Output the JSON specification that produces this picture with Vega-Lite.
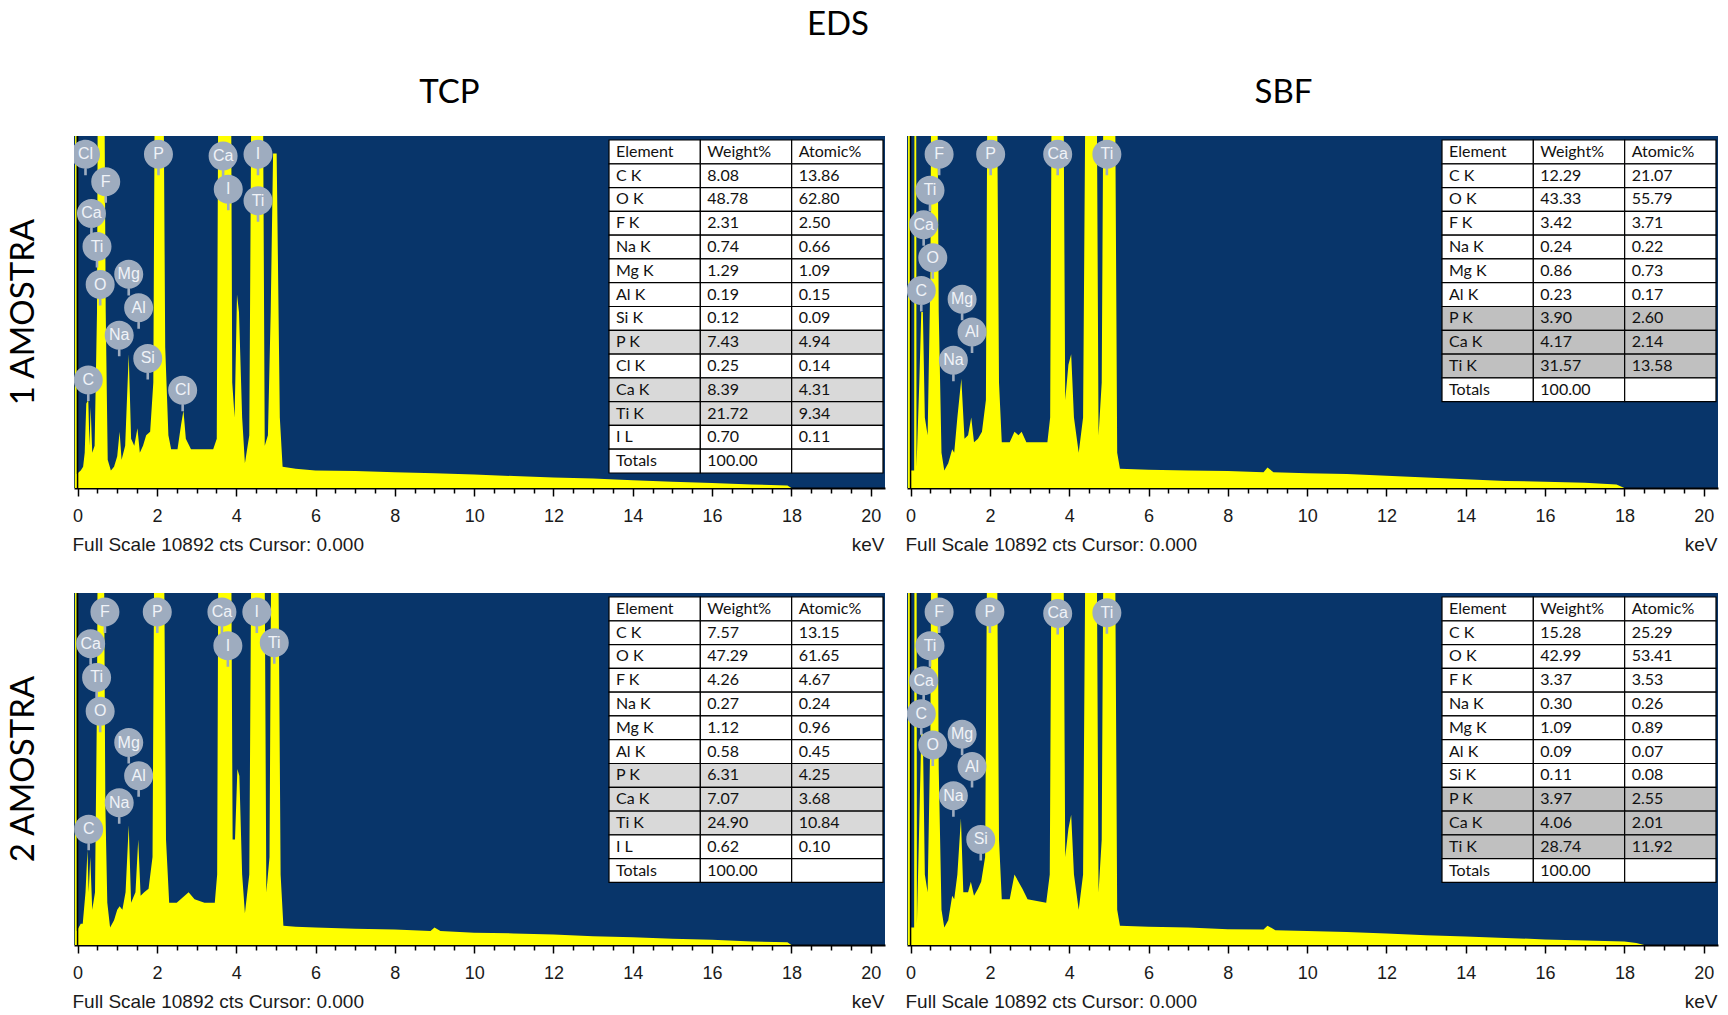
{
"$schema": "https://vega.github.io/schema/vega-lite/v6.json",
"background": "white",
"padding": {"left": 7, "top": 9, "right": 4, "bottom": 0},
"title": {"text": "EDS", "font": "Lato", "fontSize": 33, "fontWeight": "normal", "color": "black", "anchor": "middle", "dx": -25, "offset": 35},
"data": {"values": [
{"a":"1 AMOSTRA","m":"TCP","k":"c","e":0},
{"a":"1 AMOSTRA","m":"SBF","k":"c","e":0},
{"a":"2 AMOSTRA","m":"TCP","k":"c","e":0},
{"a":"2 AMOSTRA","m":"SBF","k":"c","e":0},
{"a":"1 AMOSTRA","m":"TCP","k":"s","e":-0.09,"n":0},
{"a":"1 AMOSTRA","m":"TCP","k":"s","e":-0.07,"n":0},
{"a":"1 AMOSTRA","m":"TCP","k":"s","e":-0.06,"n":16000},
{"a":"1 AMOSTRA","m":"TCP","k":"s","e":-0.03,"n":16000},
{"a":"1 AMOSTRA","m":"TCP","k":"s","e":-0.02,"n":436},
{"a":"1 AMOSTRA","m":"TCP","k":"s","e":0.08,"n":545},
{"a":"1 AMOSTRA","m":"TCP","k":"s","e":0.14,"n":654},
{"a":"1 AMOSTRA","m":"TCP","k":"s","e":0.18,"n":1089},
{"a":"1 AMOSTRA","m":"TCP","k":"s","e":0.22,"n":2614},
{"a":"1 AMOSTRA","m":"TCP","k":"s","e":0.27,"n":2723},
{"a":"1 AMOSTRA","m":"TCP","k":"s","e":0.30,"n":1307},
{"a":"1 AMOSTRA","m":"TCP","k":"s","e":0.33,"n":2505},
{"a":"1 AMOSTRA","m":"TCP","k":"s","e":0.37,"n":1089},
{"a":"1 AMOSTRA","m":"TCP","k":"s","e":0.43,"n":1307},
{"a":"1 AMOSTRA","m":"TCP","k":"s","e":0.49,"n":5446},
{"a":"1 AMOSTRA","m":"TCP","k":"s","e":0.52,"n":16000},
{"a":"1 AMOSTRA","m":"TCP","k":"s","e":0.66,"n":16000},
{"a":"1 AMOSTRA","m":"TCP","k":"s","e":0.71,"n":5446},
{"a":"1 AMOSTRA","m":"TCP","k":"s","e":0.76,"n":871},
{"a":"1 AMOSTRA","m":"TCP","k":"s","e":0.84,"n":545},
{"a":"1 AMOSTRA","m":"TCP","k":"s","e":0.92,"n":654},
{"a":"1 AMOSTRA","m":"TCP","k":"s","e":1.00,"n":980},
{"a":"1 AMOSTRA","m":"TCP","k":"s","e":1.06,"n":1743},
{"a":"1 AMOSTRA","m":"TCP","k":"s","e":1.11,"n":871},
{"a":"1 AMOSTRA","m":"TCP","k":"s","e":1.20,"n":1307},
{"a":"1 AMOSTRA","m":"TCP","k":"s","e":1.29,"n":4139},
{"a":"1 AMOSTRA","m":"TCP","k":"s","e":1.35,"n":1525},
{"a":"1 AMOSTRA","m":"TCP","k":"s","e":1.43,"n":1307},
{"a":"1 AMOSTRA","m":"TCP","k":"s","e":1.51,"n":1852},
{"a":"1 AMOSTRA","m":"TCP","k":"s","e":1.57,"n":1089},
{"a":"1 AMOSTRA","m":"TCP","k":"s","e":1.65,"n":1307},
{"a":"1 AMOSTRA","m":"TCP","k":"s","e":1.73,"n":1634},
{"a":"1 AMOSTRA","m":"TCP","k":"s","e":1.83,"n":1743},
{"a":"1 AMOSTRA","m":"TCP","k":"s","e":1.91,"n":3268},
{"a":"1 AMOSTRA","m":"TCP","k":"s","e":1.96,"n":16000},
{"a":"1 AMOSTRA","m":"TCP","k":"s","e":2.15,"n":16000},
{"a":"1 AMOSTRA","m":"TCP","k":"s","e":2.21,"n":4357},
{"a":"1 AMOSTRA","m":"TCP","k":"s","e":2.29,"n":1634},
{"a":"1 AMOSTRA","m":"TCP","k":"s","e":2.36,"n":1198},
{"a":"1 AMOSTRA","m":"TCP","k":"s","e":2.52,"n":1198},
{"a":"1 AMOSTRA","m":"TCP","k":"s","e":2.61,"n":1961},
{"a":"1 AMOSTRA","m":"TCP","k":"s","e":2.67,"n":2396},
{"a":"1 AMOSTRA","m":"TCP","k":"s","e":2.73,"n":1525},
{"a":"1 AMOSTRA","m":"TCP","k":"s","e":2.86,"n":1198},
{"a":"1 AMOSTRA","m":"TCP","k":"s","e":3.10,"n":1198},
{"a":"1 AMOSTRA","m":"TCP","k":"s","e":3.42,"n":1198},
{"a":"1 AMOSTRA","m":"TCP","k":"s","e":3.51,"n":1525},
{"a":"1 AMOSTRA","m":"TCP","k":"s","e":3.56,"n":16000},
{"a":"1 AMOSTRA","m":"TCP","k":"s","e":3.86,"n":16000},
{"a":"1 AMOSTRA","m":"TCP","k":"s","e":3.90,"n":3268},
{"a":"1 AMOSTRA","m":"TCP","k":"s","e":3.96,"n":2178},
{"a":"1 AMOSTRA","m":"TCP","k":"s","e":4.02,"n":5991},
{"a":"1 AMOSTRA","m":"TCP","k":"s","e":4.07,"n":5446},
{"a":"1 AMOSTRA","m":"TCP","k":"s","e":4.15,"n":2178},
{"a":"1 AMOSTRA","m":"TCP","k":"s","e":4.22,"n":762},
{"a":"1 AMOSTRA","m":"TCP","k":"s","e":4.33,"n":1634},
{"a":"1 AMOSTRA","m":"TCP","k":"s","e":4.40,"n":16000},
{"a":"1 AMOSTRA","m":"TCP","k":"s","e":4.66,"n":16000},
{"a":"1 AMOSTRA","m":"TCP","k":"s","e":4.72,"n":1307},
{"a":"1 AMOSTRA","m":"TCP","k":"s","e":4.80,"n":1634},
{"a":"1 AMOSTRA","m":"TCP","k":"s","e":4.87,"n":5446},
{"a":"1 AMOSTRA","m":"TCP","k":"s","e":4.93,"n":10347},
{"a":"1 AMOSTRA","m":"TCP","k":"s","e":5.02,"n":10347},
{"a":"1 AMOSTRA","m":"TCP","k":"s","e":5.10,"n":2178},
{"a":"1 AMOSTRA","m":"TCP","k":"s","e":5.17,"n":654},
{"a":"1 AMOSTRA","m":"TCP","k":"s","e":5.5,"n":599},
{"a":"1 AMOSTRA","m":"TCP","k":"s","e":6,"n":545},
{"a":"1 AMOSTRA","m":"TCP","k":"s","e":7,"n":523},
{"a":"1 AMOSTRA","m":"TCP","k":"s","e":8,"n":490},
{"a":"1 AMOSTRA","m":"TCP","k":"s","e":9,"n":457},
{"a":"1 AMOSTRA","m":"TCP","k":"s","e":10,"n":414},
{"a":"1 AMOSTRA","m":"TCP","k":"s","e":11,"n":370},
{"a":"1 AMOSTRA","m":"TCP","k":"s","e":12,"n":327},
{"a":"1 AMOSTRA","m":"TCP","k":"s","e":13,"n":294},
{"a":"1 AMOSTRA","m":"TCP","k":"s","e":14,"n":240},
{"a":"1 AMOSTRA","m":"TCP","k":"s","e":15,"n":196},
{"a":"1 AMOSTRA","m":"TCP","k":"s","e":16,"n":152},
{"a":"1 AMOSTRA","m":"TCP","k":"s","e":17,"n":109},
{"a":"1 AMOSTRA","m":"TCP","k":"s","e":17.9,"n":76},
{"a":"1 AMOSTRA","m":"TCP","k":"s","e":18.0,"n":0},
{"a":"1 AMOSTRA","m":"TCP","k":"s","e":20.36,"n":0},
{"a":"1 AMOSTRA","m":"SBF","k":"s","e":-0.09,"n":0},
{"a":"1 AMOSTRA","m":"SBF","k":"s","e":-0.07,"n":0},
{"a":"1 AMOSTRA","m":"SBF","k":"s","e":-0.06,"n":16000},
{"a":"1 AMOSTRA","m":"SBF","k":"s","e":-0.02,"n":16000},
{"a":"1 AMOSTRA","m":"SBF","k":"s","e":-0.01,"n":545},
{"a":"1 AMOSTRA","m":"SBF","k":"s","e":0.09,"n":545},
{"a":"1 AMOSTRA","m":"SBF","k":"s","e":0.10,"n":16000},
{"a":"1 AMOSTRA","m":"SBF","k":"s","e":0.14,"n":16000},
{"a":"1 AMOSTRA","m":"SBF","k":"s","e":0.15,"n":654},
{"a":"1 AMOSTRA","m":"SBF","k":"s","e":0.22,"n":3268},
{"a":"1 AMOSTRA","m":"SBF","k":"s","e":0.27,"n":5446},
{"a":"1 AMOSTRA","m":"SBF","k":"s","e":0.31,"n":5446},
{"a":"1 AMOSTRA","m":"SBF","k":"s","e":0.36,"n":2178},
{"a":"1 AMOSTRA","m":"SBF","k":"s","e":0.43,"n":1634},
{"a":"1 AMOSTRA","m":"SBF","k":"s","e":0.50,"n":6535},
{"a":"1 AMOSTRA","m":"SBF","k":"s","e":0.53,"n":16000},
{"a":"1 AMOSTRA","m":"SBF","k":"s","e":0.66,"n":16000},
{"a":"1 AMOSTRA","m":"SBF","k":"s","e":0.71,"n":5446},
{"a":"1 AMOSTRA","m":"SBF","k":"s","e":0.78,"n":1089},
{"a":"1 AMOSTRA","m":"SBF","k":"s","e":0.85,"n":545},
{"a":"1 AMOSTRA","m":"SBF","k":"s","e":0.95,"n":762},
{"a":"1 AMOSTRA","m":"SBF","k":"s","e":1.05,"n":1198},
{"a":"1 AMOSTRA","m":"SBF","k":"s","e":1.10,"n":1089},
{"a":"1 AMOSTRA","m":"SBF","k":"s","e":1.18,"n":2178},
{"a":"1 AMOSTRA","m":"SBF","k":"s","e":1.28,"n":3377},
{"a":"1 AMOSTRA","m":"SBF","k":"s","e":1.36,"n":1525},
{"a":"1 AMOSTRA","m":"SBF","k":"s","e":1.45,"n":1634},
{"a":"1 AMOSTRA","m":"SBF","k":"s","e":1.53,"n":2178},
{"a":"1 AMOSTRA","m":"SBF","k":"s","e":1.60,"n":1416},
{"a":"1 AMOSTRA","m":"SBF","k":"s","e":1.70,"n":1525},
{"a":"1 AMOSTRA","m":"SBF","k":"s","e":1.80,"n":1743},
{"a":"1 AMOSTRA","m":"SBF","k":"s","e":1.90,"n":2723},
{"a":"1 AMOSTRA","m":"SBF","k":"s","e":1.95,"n":16000},
{"a":"1 AMOSTRA","m":"SBF","k":"s","e":2.16,"n":16000},
{"a":"1 AMOSTRA","m":"SBF","k":"s","e":2.23,"n":3268},
{"a":"1 AMOSTRA","m":"SBF","k":"s","e":2.30,"n":1416},
{"a":"1 AMOSTRA","m":"SBF","k":"s","e":2.50,"n":1416},
{"a":"1 AMOSTRA","m":"SBF","k":"s","e":2.62,"n":1743},
{"a":"1 AMOSTRA","m":"SBF","k":"s","e":2.72,"n":1634},
{"a":"1 AMOSTRA","m":"SBF","k":"s","e":2.80,"n":1743},
{"a":"1 AMOSTRA","m":"SBF","k":"s","e":2.92,"n":1416},
{"a":"1 AMOSTRA","m":"SBF","k":"s","e":3.20,"n":1416},
{"a":"1 AMOSTRA","m":"SBF","k":"s","e":3.45,"n":1416},
{"a":"1 AMOSTRA","m":"SBF","k":"s","e":3.52,"n":2178},
{"a":"1 AMOSTRA","m":"SBF","k":"s","e":3.57,"n":16000},
{"a":"1 AMOSTRA","m":"SBF","k":"s","e":3.84,"n":16000},
{"a":"1 AMOSTRA","m":"SBF","k":"s","e":3.90,"n":2723},
{"a":"1 AMOSTRA","m":"SBF","k":"s","e":3.98,"n":3812},
{"a":"1 AMOSTRA","m":"SBF","k":"s","e":4.05,"n":4139},
{"a":"1 AMOSTRA","m":"SBF","k":"s","e":4.12,"n":2178},
{"a":"1 AMOSTRA","m":"SBF","k":"s","e":4.24,"n":1089},
{"a":"1 AMOSTRA","m":"SBF","k":"s","e":4.35,"n":2178},
{"a":"1 AMOSTRA","m":"SBF","k":"s","e":4.43,"n":16000},
{"a":"1 AMOSTRA","m":"SBF","k":"s","e":4.68,"n":16000},
{"a":"1 AMOSTRA","m":"SBF","k":"s","e":4.74,"n":1634},
{"a":"1 AMOSTRA","m":"SBF","k":"s","e":4.82,"n":3268},
{"a":"1 AMOSTRA","m":"SBF","k":"s","e":4.88,"n":16000},
{"a":"1 AMOSTRA","m":"SBF","k":"s","e":5.14,"n":16000},
{"a":"1 AMOSTRA","m":"SBF","k":"s","e":5.21,"n":1089},
{"a":"1 AMOSTRA","m":"SBF","k":"s","e":5.28,"n":599},
{"a":"1 AMOSTRA","m":"SBF","k":"s","e":6,"n":566},
{"a":"1 AMOSTRA","m":"SBF","k":"s","e":7,"n":545},
{"a":"1 AMOSTRA","m":"SBF","k":"s","e":8,"n":523},
{"a":"1 AMOSTRA","m":"SBF","k":"s","e":8.9,"n":490},
{"a":"1 AMOSTRA","m":"SBF","k":"s","e":9.0,"n":632},
{"a":"1 AMOSTRA","m":"SBF","k":"s","e":9.15,"n":490},
{"a":"1 AMOSTRA","m":"SBF","k":"s","e":10,"n":457},
{"a":"1 AMOSTRA","m":"SBF","k":"s","e":11,"n":436},
{"a":"1 AMOSTRA","m":"SBF","k":"s","e":12,"n":381},
{"a":"1 AMOSTRA","m":"SBF","k":"s","e":13,"n":327},
{"a":"1 AMOSTRA","m":"SBF","k":"s","e":14,"n":272},
{"a":"1 AMOSTRA","m":"SBF","k":"s","e":15,"n":218},
{"a":"1 AMOSTRA","m":"SBF","k":"s","e":16,"n":196},
{"a":"1 AMOSTRA","m":"SBF","k":"s","e":17,"n":163},
{"a":"1 AMOSTRA","m":"SBF","k":"s","e":17.8,"n":109},
{"a":"1 AMOSTRA","m":"SBF","k":"s","e":18.0,"n":0},
{"a":"1 AMOSTRA","m":"SBF","k":"s","e":20.36,"n":0},
{"a":"2 AMOSTRA","m":"TCP","k":"s","e":-0.09,"n":0},
{"a":"2 AMOSTRA","m":"TCP","k":"s","e":-0.07,"n":0},
{"a":"2 AMOSTRA","m":"TCP","k":"s","e":-0.06,"n":16000},
{"a":"2 AMOSTRA","m":"TCP","k":"s","e":-0.03,"n":16000},
{"a":"2 AMOSTRA","m":"TCP","k":"s","e":-0.02,"n":436},
{"a":"2 AMOSTRA","m":"TCP","k":"s","e":0.08,"n":654},
{"a":"2 AMOSTRA","m":"TCP","k":"s","e":0.13,"n":654},
{"a":"2 AMOSTRA","m":"TCP","k":"s","e":0.20,"n":1634},
{"a":"2 AMOSTRA","m":"TCP","k":"s","e":0.25,"n":2941},
{"a":"2 AMOSTRA","m":"TCP","k":"s","e":0.28,"n":1634},
{"a":"2 AMOSTRA","m":"TCP","k":"s","e":0.32,"n":2723},
{"a":"2 AMOSTRA","m":"TCP","k":"s","e":0.37,"n":1089},
{"a":"2 AMOSTRA","m":"TCP","k":"s","e":0.44,"n":1634},
{"a":"2 AMOSTRA","m":"TCP","k":"s","e":0.49,"n":7624},
{"a":"2 AMOSTRA","m":"TCP","k":"s","e":0.52,"n":16000},
{"a":"2 AMOSTRA","m":"TCP","k":"s","e":0.65,"n":16000},
{"a":"2 AMOSTRA","m":"TCP","k":"s","e":0.70,"n":4357},
{"a":"2 AMOSTRA","m":"TCP","k":"s","e":0.75,"n":1307},
{"a":"2 AMOSTRA","m":"TCP","k":"s","e":0.82,"n":545},
{"a":"2 AMOSTRA","m":"TCP","k":"s","e":0.92,"n":762},
{"a":"2 AMOSTRA","m":"TCP","k":"s","e":1.00,"n":1089},
{"a":"2 AMOSTRA","m":"TCP","k":"s","e":1.06,"n":1198},
{"a":"2 AMOSTRA","m":"TCP","k":"s","e":1.13,"n":1089},
{"a":"2 AMOSTRA","m":"TCP","k":"s","e":1.21,"n":1634},
{"a":"2 AMOSTRA","m":"TCP","k":"s","e":1.29,"n":3703},
{"a":"2 AMOSTRA","m":"TCP","k":"s","e":1.35,"n":1307},
{"a":"2 AMOSTRA","m":"TCP","k":"s","e":1.46,"n":1634},
{"a":"2 AMOSTRA","m":"TCP","k":"s","e":1.53,"n":3268},
{"a":"2 AMOSTRA","m":"TCP","k":"s","e":1.59,"n":1525},
{"a":"2 AMOSTRA","m":"TCP","k":"s","e":1.68,"n":1634},
{"a":"2 AMOSTRA","m":"TCP","k":"s","e":1.79,"n":1743},
{"a":"2 AMOSTRA","m":"TCP","k":"s","e":1.89,"n":2723},
{"a":"2 AMOSTRA","m":"TCP","k":"s","e":1.95,"n":16000},
{"a":"2 AMOSTRA","m":"TCP","k":"s","e":2.16,"n":16000},
{"a":"2 AMOSTRA","m":"TCP","k":"s","e":2.23,"n":3268},
{"a":"2 AMOSTRA","m":"TCP","k":"s","e":2.31,"n":1307},
{"a":"2 AMOSTRA","m":"TCP","k":"s","e":2.50,"n":1307},
{"a":"2 AMOSTRA","m":"TCP","k":"s","e":2.70,"n":1525},
{"a":"2 AMOSTRA","m":"TCP","k":"s","e":2.80,"n":1634},
{"a":"2 AMOSTRA","m":"TCP","k":"s","e":2.95,"n":1416},
{"a":"2 AMOSTRA","m":"TCP","k":"s","e":3.20,"n":1307},
{"a":"2 AMOSTRA","m":"TCP","k":"s","e":3.46,"n":1307},
{"a":"2 AMOSTRA","m":"TCP","k":"s","e":3.52,"n":2178},
{"a":"2 AMOSTRA","m":"TCP","k":"s","e":3.56,"n":16000},
{"a":"2 AMOSTRA","m":"TCP","k":"s","e":3.86,"n":16000},
{"a":"2 AMOSTRA","m":"TCP","k":"s","e":3.91,"n":3268},
{"a":"2 AMOSTRA","m":"TCP","k":"s","e":3.97,"n":3268},
{"a":"2 AMOSTRA","m":"TCP","k":"s","e":4.03,"n":5446},
{"a":"2 AMOSTRA","m":"TCP","k":"s","e":4.08,"n":5228},
{"a":"2 AMOSTRA","m":"TCP","k":"s","e":4.15,"n":2178},
{"a":"2 AMOSTRA","m":"TCP","k":"s","e":4.22,"n":980},
{"a":"2 AMOSTRA","m":"TCP","k":"s","e":4.33,"n":2178},
{"a":"2 AMOSTRA","m":"TCP","k":"s","e":4.40,"n":16000},
{"a":"2 AMOSTRA","m":"TCP","k":"s","e":4.70,"n":16000},
{"a":"2 AMOSTRA","m":"TCP","k":"s","e":4.76,"n":1634},
{"a":"2 AMOSTRA","m":"TCP","k":"s","e":4.84,"n":2723},
{"a":"2 AMOSTRA","m":"TCP","k":"s","e":4.90,"n":16000},
{"a":"2 AMOSTRA","m":"TCP","k":"s","e":5.04,"n":16000},
{"a":"2 AMOSTRA","m":"TCP","k":"s","e":5.12,"n":2178},
{"a":"2 AMOSTRA","m":"TCP","k":"s","e":5.19,"n":599},
{"a":"2 AMOSTRA","m":"TCP","k":"s","e":5.5,"n":566},
{"a":"2 AMOSTRA","m":"TCP","k":"s","e":6,"n":545},
{"a":"2 AMOSTRA","m":"TCP","k":"s","e":7,"n":501},
{"a":"2 AMOSTRA","m":"TCP","k":"s","e":8,"n":479},
{"a":"2 AMOSTRA","m":"TCP","k":"s","e":8.9,"n":436},
{"a":"2 AMOSTRA","m":"TCP","k":"s","e":9.0,"n":545},
{"a":"2 AMOSTRA","m":"TCP","k":"s","e":9.15,"n":436},
{"a":"2 AMOSTRA","m":"TCP","k":"s","e":10,"n":381},
{"a":"2 AMOSTRA","m":"TCP","k":"s","e":11,"n":359},
{"a":"2 AMOSTRA","m":"TCP","k":"s","e":12,"n":327},
{"a":"2 AMOSTRA","m":"TCP","k":"s","e":13,"n":272},
{"a":"2 AMOSTRA","m":"TCP","k":"s","e":14,"n":240},
{"a":"2 AMOSTRA","m":"TCP","k":"s","e":15,"n":196},
{"a":"2 AMOSTRA","m":"TCP","k":"s","e":16,"n":163},
{"a":"2 AMOSTRA","m":"TCP","k":"s","e":17,"n":109},
{"a":"2 AMOSTRA","m":"TCP","k":"s","e":17.9,"n":87},
{"a":"2 AMOSTRA","m":"TCP","k":"s","e":18.0,"n":0},
{"a":"2 AMOSTRA","m":"TCP","k":"s","e":20.36,"n":0},
{"a":"2 AMOSTRA","m":"SBF","k":"s","e":-0.09,"n":0},
{"a":"2 AMOSTRA","m":"SBF","k":"s","e":-0.07,"n":0},
{"a":"2 AMOSTRA","m":"SBF","k":"s","e":-0.06,"n":16000},
{"a":"2 AMOSTRA","m":"SBF","k":"s","e":-0.02,"n":16000},
{"a":"2 AMOSTRA","m":"SBF","k":"s","e":-0.01,"n":545},
{"a":"2 AMOSTRA","m":"SBF","k":"s","e":0.09,"n":545},
{"a":"2 AMOSTRA","m":"SBF","k":"s","e":0.10,"n":16000},
{"a":"2 AMOSTRA","m":"SBF","k":"s","e":0.15,"n":16000},
{"a":"2 AMOSTRA","m":"SBF","k":"s","e":0.16,"n":654},
{"a":"2 AMOSTRA","m":"SBF","k":"s","e":0.22,"n":3812},
{"a":"2 AMOSTRA","m":"SBF","k":"s","e":0.27,"n":6535},
{"a":"2 AMOSTRA","m":"SBF","k":"s","e":0.31,"n":6535},
{"a":"2 AMOSTRA","m":"SBF","k":"s","e":0.36,"n":2178},
{"a":"2 AMOSTRA","m":"SBF","k":"s","e":0.43,"n":1634},
{"a":"2 AMOSTRA","m":"SBF","k":"s","e":0.50,"n":6535},
{"a":"2 AMOSTRA","m":"SBF","k":"s","e":0.53,"n":16000},
{"a":"2 AMOSTRA","m":"SBF","k":"s","e":0.66,"n":16000},
{"a":"2 AMOSTRA","m":"SBF","k":"s","e":0.71,"n":5446},
{"a":"2 AMOSTRA","m":"SBF","k":"s","e":0.78,"n":1089},
{"a":"2 AMOSTRA","m":"SBF","k":"s","e":0.85,"n":545},
{"a":"2 AMOSTRA","m":"SBF","k":"s","e":0.95,"n":762},
{"a":"2 AMOSTRA","m":"SBF","k":"s","e":1.05,"n":1525},
{"a":"2 AMOSTRA","m":"SBF","k":"s","e":1.10,"n":1416},
{"a":"2 AMOSTRA","m":"SBF","k":"s","e":1.18,"n":2178},
{"a":"2 AMOSTRA","m":"SBF","k":"s","e":1.27,"n":3921},
{"a":"2 AMOSTRA","m":"SBF","k":"s","e":1.33,"n":1634},
{"a":"2 AMOSTRA","m":"SBF","k":"s","e":1.45,"n":1634},
{"a":"2 AMOSTRA","m":"SBF","k":"s","e":1.52,"n":1961},
{"a":"2 AMOSTRA","m":"SBF","k":"s","e":1.60,"n":1525},
{"a":"2 AMOSTRA","m":"SBF","k":"s","e":1.70,"n":1743},
{"a":"2 AMOSTRA","m":"SBF","k":"s","e":1.78,"n":1961},
{"a":"2 AMOSTRA","m":"SBF","k":"s","e":1.88,"n":2723},
{"a":"2 AMOSTRA","m":"SBF","k":"s","e":1.95,"n":16000},
{"a":"2 AMOSTRA","m":"SBF","k":"s","e":2.16,"n":16000},
{"a":"2 AMOSTRA","m":"SBF","k":"s","e":2.23,"n":3268},
{"a":"2 AMOSTRA","m":"SBF","k":"s","e":2.30,"n":1416},
{"a":"2 AMOSTRA","m":"SBF","k":"s","e":2.50,"n":1416},
{"a":"2 AMOSTRA","m":"SBF","k":"s","e":2.62,"n":2178},
{"a":"2 AMOSTRA","m":"SBF","k":"s","e":2.72,"n":1961},
{"a":"2 AMOSTRA","m":"SBF","k":"s","e":2.82,"n":1743},
{"a":"2 AMOSTRA","m":"SBF","k":"s","e":2.95,"n":1416},
{"a":"2 AMOSTRA","m":"SBF","k":"s","e":3.42,"n":1307},
{"a":"2 AMOSTRA","m":"SBF","k":"s","e":3.51,"n":2178},
{"a":"2 AMOSTRA","m":"SBF","k":"s","e":3.57,"n":16000},
{"a":"2 AMOSTRA","m":"SBF","k":"s","e":3.84,"n":16000},
{"a":"2 AMOSTRA","m":"SBF","k":"s","e":3.90,"n":2723},
{"a":"2 AMOSTRA","m":"SBF","k":"s","e":3.98,"n":3594},
{"a":"2 AMOSTRA","m":"SBF","k":"s","e":4.05,"n":4030},
{"a":"2 AMOSTRA","m":"SBF","k":"s","e":4.12,"n":2178},
{"a":"2 AMOSTRA","m":"SBF","k":"s","e":4.24,"n":1089},
{"a":"2 AMOSTRA","m":"SBF","k":"s","e":4.35,"n":2178},
{"a":"2 AMOSTRA","m":"SBF","k":"s","e":4.43,"n":16000},
{"a":"2 AMOSTRA","m":"SBF","k":"s","e":4.68,"n":16000},
{"a":"2 AMOSTRA","m":"SBF","k":"s","e":4.74,"n":1634},
{"a":"2 AMOSTRA","m":"SBF","k":"s","e":4.82,"n":3268},
{"a":"2 AMOSTRA","m":"SBF","k":"s","e":4.88,"n":16000},
{"a":"2 AMOSTRA","m":"SBF","k":"s","e":5.14,"n":16000},
{"a":"2 AMOSTRA","m":"SBF","k":"s","e":5.21,"n":1089},
{"a":"2 AMOSTRA","m":"SBF","k":"s","e":5.28,"n":599},
{"a":"2 AMOSTRA","m":"SBF","k":"s","e":6,"n":566},
{"a":"2 AMOSTRA","m":"SBF","k":"s","e":7,"n":545},
{"a":"2 AMOSTRA","m":"SBF","k":"s","e":8,"n":490},
{"a":"2 AMOSTRA","m":"SBF","k":"s","e":8.9,"n":479},
{"a":"2 AMOSTRA","m":"SBF","k":"s","e":9.0,"n":599},
{"a":"2 AMOSTRA","m":"SBF","k":"s","e":9.2,"n":457},
{"a":"2 AMOSTRA","m":"SBF","k":"s","e":10,"n":436},
{"a":"2 AMOSTRA","m":"SBF","k":"s","e":11,"n":403},
{"a":"2 AMOSTRA","m":"SBF","k":"s","e":12,"n":359},
{"a":"2 AMOSTRA","m":"SBF","k":"s","e":13,"n":305},
{"a":"2 AMOSTRA","m":"SBF","k":"s","e":14,"n":261},
{"a":"2 AMOSTRA","m":"SBF","k":"s","e":15,"n":218},
{"a":"2 AMOSTRA","m":"SBF","k":"s","e":16,"n":174},
{"a":"2 AMOSTRA","m":"SBF","k":"s","e":17,"n":142},
{"a":"2 AMOSTRA","m":"SBF","k":"s","e":18,"n":109},
{"a":"2 AMOSTRA","m":"SBF","k":"s","e":18.3,"n":65},
{"a":"2 AMOSTRA","m":"SBF","k":"s","e":18.5,"n":0},
{"a":"2 AMOSTRA","m":"SBF","k":"s","e":20.36,"n":0},
{"a":"1 AMOSTRA","m":"TCP","k":"l","t":"Cl","e":0.20,"n":10326},
{"a":"1 AMOSTRA","m":"TCP","k":"l","t":"F","e":0.71,"n":9476},
{"a":"1 AMOSTRA","m":"TCP","k":"l","t":"Ca","e":0.35,"n":8496},
{"a":"1 AMOSTRA","m":"TCP","k":"l","t":"Ti","e":0.49,"n":7472},
{"a":"1 AMOSTRA","m":"TCP","k":"l","t":"O","e":0.57,"n":6296},
{"a":"1 AMOSTRA","m":"TCP","k":"l","t":"Mg","e":1.29,"n":6611},
{"a":"1 AMOSTRA","m":"TCP","k":"l","t":"Al","e":1.54,"n":5577},
{"a":"1 AMOSTRA","m":"TCP","k":"l","t":"Na","e":1.05,"n":4727},
{"a":"1 AMOSTRA","m":"TCP","k":"l","t":"Si","e":1.77,"n":4008},
{"a":"1 AMOSTRA","m":"TCP","k":"l","t":"C","e":0.27,"n":3344},
{"a":"1 AMOSTRA","m":"TCP","k":"l","t":"Cl","e":2.65,"n":3028},
{"a":"1 AMOSTRA","m":"TCP","k":"l","t":"P","e":2.04,"n":10326},
{"a":"1 AMOSTRA","m":"TCP","k":"l","t":"Ca","e":3.67,"n":10271},
{"a":"1 AMOSTRA","m":"TCP","k":"l","t":"I","e":4.55,"n":10326},
{"a":"1 AMOSTRA","m":"TCP","k":"l","t":"I","e":3.80,"n":9247},
{"a":"1 AMOSTRA","m":"TCP","k":"l","t":"Ti","e":4.55,"n":8888},
{"a":"1 AMOSTRA","m":"SBF","k":"l","t":"F","e":0.72,"n":10326},
{"a":"1 AMOSTRA","m":"SBF","k":"l","t":"Ti","e":0.49,"n":9215},
{"a":"1 AMOSTRA","m":"SBF","k":"l","t":"Ca","e":0.33,"n":8147},
{"a":"1 AMOSTRA","m":"SBF","k":"l","t":"O","e":0.56,"n":7123},
{"a":"1 AMOSTRA","m":"SBF","k":"l","t":"C","e":0.27,"n":6110},
{"a":"1 AMOSTRA","m":"SBF","k":"l","t":"Mg","e":1.30,"n":5838},
{"a":"1 AMOSTRA","m":"SBF","k":"l","t":"Al","e":1.55,"n":4825},
{"a":"1 AMOSTRA","m":"SBF","k":"l","t":"Na","e":1.08,"n":3954},
{"a":"1 AMOSTRA","m":"SBF","k":"l","t":"P","e":2.02,"n":10326},
{"a":"1 AMOSTRA","m":"SBF","k":"l","t":"Ca","e":3.71,"n":10326},
{"a":"1 AMOSTRA","m":"SBF","k":"l","t":"Ti","e":4.95,"n":10326},
{"a":"2 AMOSTRA","m":"TCP","k":"l","t":"F","e":0.69,"n":10304},
{"a":"2 AMOSTRA","m":"TCP","k":"l","t":"P","e":2.01,"n":10304},
{"a":"2 AMOSTRA","m":"TCP","k":"l","t":"Ca","e":3.64,"n":10304},
{"a":"2 AMOSTRA","m":"TCP","k":"l","t":"I","e":4.52,"n":10304},
{"a":"2 AMOSTRA","m":"TCP","k":"l","t":"Ca","e":0.33,"n":9324},
{"a":"2 AMOSTRA","m":"TCP","k":"l","t":"I","e":3.79,"n":9258},
{"a":"2 AMOSTRA","m":"TCP","k":"l","t":"Ti","e":4.96,"n":9356},
{"a":"2 AMOSTRA","m":"TCP","k":"l","t":"Ti","e":0.48,"n":8278},
{"a":"2 AMOSTRA","m":"TCP","k":"l","t":"O","e":0.57,"n":7232},
{"a":"2 AMOSTRA","m":"TCP","k":"l","t":"Mg","e":1.29,"n":6263},
{"a":"2 AMOSTRA","m":"TCP","k":"l","t":"Al","e":1.54,"n":5239},
{"a":"2 AMOSTRA","m":"TCP","k":"l","t":"Na","e":1.05,"n":4400},
{"a":"2 AMOSTRA","m":"TCP","k":"l","t":"C","e":0.28,"n":3583},
{"a":"2 AMOSTRA","m":"SBF","k":"l","t":"F","e":0.72,"n":10304},
{"a":"2 AMOSTRA","m":"SBF","k":"l","t":"P","e":2.00,"n":10304},
{"a":"2 AMOSTRA","m":"SBF","k":"l","t":"Ca","e":3.71,"n":10260},
{"a":"2 AMOSTRA","m":"SBF","k":"l","t":"Ti","e":4.95,"n":10282},
{"a":"2 AMOSTRA","m":"SBF","k":"l","t":"Ti","e":0.49,"n":9258},
{"a":"2 AMOSTRA","m":"SBF","k":"l","t":"Ca","e":0.33,"n":8180},
{"a":"2 AMOSTRA","m":"SBF","k":"l","t":"C","e":0.27,"n":7156},
{"a":"2 AMOSTRA","m":"SBF","k":"l","t":"O","e":0.56,"n":6187},
{"a":"2 AMOSTRA","m":"SBF","k":"l","t":"Mg","e":1.30,"n":6524},
{"a":"2 AMOSTRA","m":"SBF","k":"l","t":"Al","e":1.55,"n":5522},
{"a":"2 AMOSTRA","m":"SBF","k":"l","t":"Na","e":1.08,"n":4618},
{"a":"2 AMOSTRA","m":"SBF","k":"l","t":"Si","e":1.77,"n":3268},
{"a":"1 AMOSTRA","m":"TCP","k":"t","r":0,"hl":0,"el":"Element","w":"Weight%","at":"Atomic%"},
{"a":"1 AMOSTRA","m":"TCP","k":"t","r":1,"hl":0,"el":"C K","w":"8.08","at":"13.86"},
{"a":"1 AMOSTRA","m":"TCP","k":"t","r":2,"hl":0,"el":"O K","w":"48.78","at":"62.80"},
{"a":"1 AMOSTRA","m":"TCP","k":"t","r":3,"hl":0,"el":"F K","w":"2.31","at":"2.50"},
{"a":"1 AMOSTRA","m":"TCP","k":"t","r":4,"hl":0,"el":"Na K","w":"0.74","at":"0.66"},
{"a":"1 AMOSTRA","m":"TCP","k":"t","r":5,"hl":0,"el":"Mg K","w":"1.29","at":"1.09"},
{"a":"1 AMOSTRA","m":"TCP","k":"t","r":6,"hl":0,"el":"Al K","w":"0.19","at":"0.15"},
{"a":"1 AMOSTRA","m":"TCP","k":"t","r":7,"hl":0,"el":"Si K","w":"0.12","at":"0.09"},
{"a":"1 AMOSTRA","m":"TCP","k":"t","r":8,"hl":1,"el":"P K","w":"7.43","at":"4.94"},
{"a":"1 AMOSTRA","m":"TCP","k":"t","r":9,"hl":0,"el":"Cl K","w":"0.25","at":"0.14"},
{"a":"1 AMOSTRA","m":"TCP","k":"t","r":10,"hl":1,"el":"Ca K","w":"8.39","at":"4.31"},
{"a":"1 AMOSTRA","m":"TCP","k":"t","r":11,"hl":1,"el":"Ti K","w":"21.72","at":"9.34"},
{"a":"1 AMOSTRA","m":"TCP","k":"t","r":12,"hl":0,"el":"I L","w":"0.70","at":"0.11"},
{"a":"1 AMOSTRA","m":"TCP","k":"t","r":13,"hl":0,"el":"Totals","w":"100.00","at":""},
{"a":"1 AMOSTRA","m":"SBF","k":"t","r":0,"hl":0,"el":"Element","w":"Weight%","at":"Atomic%"},
{"a":"1 AMOSTRA","m":"SBF","k":"t","r":1,"hl":0,"el":"C K","w":"12.29","at":"21.07"},
{"a":"1 AMOSTRA","m":"SBF","k":"t","r":2,"hl":0,"el":"O K","w":"43.33","at":"55.79"},
{"a":"1 AMOSTRA","m":"SBF","k":"t","r":3,"hl":0,"el":"F K","w":"3.42","at":"3.71"},
{"a":"1 AMOSTRA","m":"SBF","k":"t","r":4,"hl":0,"el":"Na K","w":"0.24","at":"0.22"},
{"a":"1 AMOSTRA","m":"SBF","k":"t","r":5,"hl":0,"el":"Mg K","w":"0.86","at":"0.73"},
{"a":"1 AMOSTRA","m":"SBF","k":"t","r":6,"hl":0,"el":"Al K","w":"0.23","at":"0.17"},
{"a":"1 AMOSTRA","m":"SBF","k":"t","r":7,"hl":1,"el":"P K","w":"3.90","at":"2.60"},
{"a":"1 AMOSTRA","m":"SBF","k":"t","r":8,"hl":1,"el":"Ca K","w":"4.17","at":"2.14"},
{"a":"1 AMOSTRA","m":"SBF","k":"t","r":9,"hl":1,"el":"Ti K","w":"31.57","at":"13.58"},
{"a":"1 AMOSTRA","m":"SBF","k":"t","r":10,"hl":0,"el":"Totals","w":"100.00","at":""},
{"a":"2 AMOSTRA","m":"TCP","k":"t","r":0,"hl":0,"el":"Element","w":"Weight%","at":"Atomic%"},
{"a":"2 AMOSTRA","m":"TCP","k":"t","r":1,"hl":0,"el":"C K","w":"7.57","at":"13.15"},
{"a":"2 AMOSTRA","m":"TCP","k":"t","r":2,"hl":0,"el":"O K","w":"47.29","at":"61.65"},
{"a":"2 AMOSTRA","m":"TCP","k":"t","r":3,"hl":0,"el":"F K","w":"4.26","at":"4.67"},
{"a":"2 AMOSTRA","m":"TCP","k":"t","r":4,"hl":0,"el":"Na K","w":"0.27","at":"0.24"},
{"a":"2 AMOSTRA","m":"TCP","k":"t","r":5,"hl":0,"el":"Mg K","w":"1.12","at":"0.96"},
{"a":"2 AMOSTRA","m":"TCP","k":"t","r":6,"hl":0,"el":"Al K","w":"0.58","at":"0.45"},
{"a":"2 AMOSTRA","m":"TCP","k":"t","r":7,"hl":1,"el":"P K","w":"6.31","at":"4.25"},
{"a":"2 AMOSTRA","m":"TCP","k":"t","r":8,"hl":1,"el":"Ca K","w":"7.07","at":"3.68"},
{"a":"2 AMOSTRA","m":"TCP","k":"t","r":9,"hl":1,"el":"Ti K","w":"24.90","at":"10.84"},
{"a":"2 AMOSTRA","m":"TCP","k":"t","r":10,"hl":0,"el":"I L","w":"0.62","at":"0.10"},
{"a":"2 AMOSTRA","m":"TCP","k":"t","r":11,"hl":0,"el":"Totals","w":"100.00","at":""},
{"a":"2 AMOSTRA","m":"SBF","k":"t","r":0,"hl":0,"el":"Element","w":"Weight%","at":"Atomic%"},
{"a":"2 AMOSTRA","m":"SBF","k":"t","r":1,"hl":0,"el":"C K","w":"15.28","at":"25.29"},
{"a":"2 AMOSTRA","m":"SBF","k":"t","r":2,"hl":0,"el":"O K","w":"42.99","at":"53.41"},
{"a":"2 AMOSTRA","m":"SBF","k":"t","r":3,"hl":0,"el":"F K","w":"3.37","at":"3.53"},
{"a":"2 AMOSTRA","m":"SBF","k":"t","r":4,"hl":0,"el":"Na K","w":"0.30","at":"0.26"},
{"a":"2 AMOSTRA","m":"SBF","k":"t","r":5,"hl":0,"el":"Mg K","w":"1.09","at":"0.89"},
{"a":"2 AMOSTRA","m":"SBF","k":"t","r":6,"hl":0,"el":"Al K","w":"0.09","at":"0.07"},
{"a":"2 AMOSTRA","m":"SBF","k":"t","r":7,"hl":0,"el":"Si K","w":"0.11","at":"0.08"},
{"a":"2 AMOSTRA","m":"SBF","k":"t","r":8,"hl":1,"el":"P K","w":"3.97","at":"2.55"},
{"a":"2 AMOSTRA","m":"SBF","k":"t","r":9,"hl":1,"el":"Ca K","w":"4.06","at":"2.01"},
{"a":"2 AMOSTRA","m":"SBF","k":"t","r":10,"hl":1,"el":"Ti K","w":"28.74","at":"11.92"},
{"a":"2 AMOSTRA","m":"SBF","k":"t","r":11,"hl":0,"el":"Totals","w":"100.00","at":""}
]},
"facet": {
  "row": {"field": "a", "type": "nominal", "header": {"title": null, "labelAngle": -90, "labelFont": "Lato", "labelFontSize": 33, "labelColor": "black", "labelPadding": 15}},
  "column": {"field": "m", "type": "nominal", "sort": ["TCP", "SBF"], "header": {"title": null, "labelFont": "Lato", "labelFontSize": 33, "labelColor": "black", "labelAlign": "right", "labelPadding": 25}}
},
"spacing": {"row": 38, "column": 20},
"resolve": {"scale": {"x": "independent", "y": "independent"}, "axis": {"x": "independent", "y": "independent"}},
"spec": {
  "width": 811,
  "height": 352,
  "layer": [
    {
      "layer": [
        {
          "transform": [{"filter": "datum.k == 's'"}],
          "mark": {"type": "area", "color": "#ffff00", "clip": true, "interpolate": "linear", "opacity": 1},
          "encoding": {
            "x": {"field": "e", "type": "quantitative", "scale": {"domain": [-0.09, 20.36], "nice": false, "zero": false},
              "axis": {"orient": "bottom", "values": [0, 2, 4, 6, 8, 10, 12, 14, 16, 18, 20], "grid": false, "tickSize": 8, "tickWidth": 1.5, "tickColor": "black", "domainColor": "black", "domainWidth": 2, "labelFont": "Liberation Sans", "labelFontSize": 18, "labelColor": "#1a1a1a", "labelPadding": 11, "labelFlush": false, "title": "keV", "titleFont": "Liberation Sans", "titleFontSize": 19, "titleFontWeight": "normal", "titleColor": "#1a1a1a", "titleX": 810, "titleY": 56, "titleAlign": "right", "titleBaseline": "middle"}},
            "y": {"field": "n", "type": "quantitative", "stack": null, "scale": {"domain": [0, 10892], "nice": false, "zero": true}, "axis": null}
          }
        },
        {
          "transform": [{"filter": "datum.k == 'c'"}],
          "mark": {"type": "rule", "color": "black", "strokeWidth": 1.5},
          "encoding": {"x": {"field": "e", "type": "quantitative"}}
        }
      ]
    },
    {
      "transform": [{"filter": "datum.k == 'l'"}],
      "encoding": {
        "x": {"field": "e", "type": "quantitative", "scale": {"domain": [-0.09, 20.36], "nice": false, "zero": false},
          "axis": {"orient": "bottom", "values": [0.5, 1, 1.5, 2.5, 3, 3.5, 4.5, 5, 5.5, 6.5, 7, 7.5, 8.5, 9, 9.5, 10.5, 11, 11.5, 12.5, 13, 13.5, 14.5, 15, 15.5, 16.5, 17, 17.5, 18.5, 19, 19.5], "grid": false, "labels": false, "domain": false, "tickSize": 5, "tickWidth": 1.5, "tickColor": "black", "title": "Full Scale 10892 cts Cursor: 0.000", "titleFont": "Liberation Sans", "titleFontSize": 19, "titleFontWeight": "normal", "titleColor": "#1a1a1a", "titleX": -2, "titleY": 56, "titleAlign": "left", "titleBaseline": "middle"}},
        "y": {"field": "n", "type": "quantitative", "scale": {"domain": [0, 10892], "nice": false}, "axis": null}
      },
      "layer": [
        {"mark": {"type": "point", "shape": "M-1,0A1,1,0,1,1,1,0A1,1,0,1,1,-1,0ZM-0.09,0.9L0.09,0.9L0.09,1.45L-0.09,1.45Z", "filled": true, "size": 841, "color": "#9eacbf", "opacity": 1, "clip": true}},
        {"mark": {"type": "text", "font": "Liberation Sans", "fontSize": 16, "color": "#f0f3f8", "clip": true, "baseline": "middle"}, "encoding": {"text": {"field": "t"}}}
      ]
    },
    {
      "transform": [{"filter": "datum.k == 't'"}, {"fold": ["el", "w", "at"], "as": ["col", "txt"]}],
      "encoding": {
        "x": {"field": "col", "type": "nominal", "scale": {"domain": ["el", "w", "at"], "range": [535, 809], "paddingInner": 0, "paddingOuter": 0}, "axis": null},
        "y": {"field": "r", "type": "ordinal", "scale": {"domain": [0, 1, 2, 3, 4, 5, 6, 7, 8, 9, 10, 11, 12, 13], "range": [4, 337], "paddingInner": 0, "paddingOuter": 0}, "axis": null}
      },
      "layer": [
        {"mark": {"type": "rect", "stroke": "black", "strokeWidth": 1.2},
         "encoding": {"fill": {"condition": [{"test": "datum.hl == 1 && datum.m == 'TCP'", "value": "#d9d9d9"}, {"test": "datum.hl == 1", "value": "#c0c0c0"}], "value": "white"}}},
        {"mark": {"type": "text", "align": "left", "baseline": "middle", "dx": 7, "font": "Lato", "fontSize": 16, "color": "#111111"},
         "encoding": {
           "x": {"field": "col", "type": "nominal", "bandPosition": 0, "scale": {"domain": ["el", "w", "at"], "range": [535, 809], "paddingInner": 0, "paddingOuter": 0}, "axis": null},
           "text": {"field": "txt"}}}
      ]
    }
  ],
  "resolve": {"scale": {"x": "independent", "y": "independent"}, "axis": {"x": "independent", "y": "independent"}}
},
"config": {"view": {"fill": "#08356a", "stroke": null}, "font": "Liberation Sans"}
}
